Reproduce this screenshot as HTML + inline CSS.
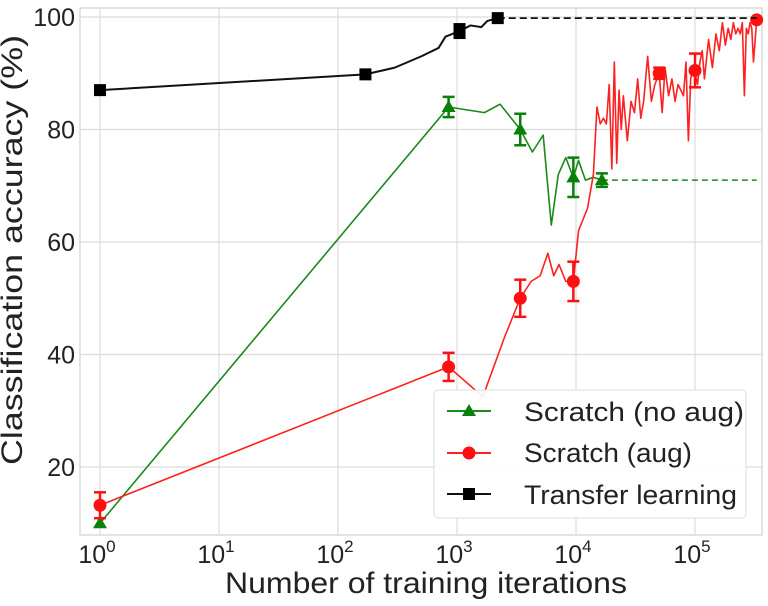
<!DOCTYPE html>
<html><head><meta charset="utf-8"><style>
html,body{margin:0;padding:0;background:#fff;}
svg{display:block;font-family:"Liberation Sans",sans-serif;}
</style></head><body>
<svg id="chart" width="768" height="606" viewBox="0 0 768 606" xmlns="http://www.w3.org/2000/svg">
<rect x="80" y="8" width="682" height="527" fill="#fff" stroke="#d0d0d0" stroke-width="1.2"/>
<g id="grid"></g>
<g id="series"></g>
<text x="22" y="250" font-size="30" fill="#222" text-anchor="middle" textLength="430" lengthAdjust="spacingAndGlyphs" transform="rotate(-90 22 250)">Classification accuracy (%)</text>
<text x="426" y="593" font-size="30" fill="#222" text-anchor="middle" textLength="402" lengthAdjust="spacingAndGlyphs">Number of training iterations</text>
<g>
<rect x="434" y="390" width="312" height="128" rx="4" fill="#fff" fill-opacity="0.9" stroke="#ddd"/>
<g><line x1="447" y1="411" x2="491" y2="411" stroke="#1a8a1a" stroke-width="2"/><polygon points="469,404 476,416 462,416" fill="#0a800a"/><text x="524" y="421" font-size="27" fill="#222" textLength="220" lengthAdjust="spacingAndGlyphs">Scratch (no aug)</text></g>
<g><line x1="447" y1="453" x2="491" y2="453" stroke="#ff2020" stroke-width="2"/><circle cx="469" cy="453" r="6.5" fill="#ff1010"/><text x="524" y="462" font-size="27" fill="#222" textLength="168" lengthAdjust="spacingAndGlyphs">Scratch (aug)</text></g>
<g><line x1="447" y1="494" x2="491" y2="494" stroke="#111" stroke-width="2"/><rect x="463" y="488" width="12" height="12" fill="#000"/><text x="524" y="504" font-size="27" fill="#222" textLength="213" lengthAdjust="spacingAndGlyphs">Transfer learning</text></g>
</g>
</svg>
<script>
// ---- data ----
const yTicks=[20,40,60,80,100];
const xTickExps=[0,1,2,3,4,5];
const transferIters=[1,170,300,500,700,800,1050,1300,1600,1800,2200];
const transferAcc=[87,89.8,91,93,94.5,96.5,97.5,98.5,98.2,99.3,99.8];
const transferMarkIters=[1,170,1050,2200];
const transferMarkAcc=[87,89.8,97.5,99.8];
const transferErr=[0,0,1.2,0];
const transferDashEnd=330000;
const noAugIters=[1,850,1700,2300,3400,4300,5300,6200,7100,8200,9500,10500,12000,14000,16500];
const noAugAcc=[10,84,83,84.5,80,76,79,63,72,75,71.5,74.5,71,71.5,71];
const noAugMarkIters=[1,850,3400,9500,16500];
const noAugMarkAcc=[10,84,80,71.5,71];
const noAugErr=[0,1.8,2.8,3.5,1.2];
const noAugDashEnd=330000;
const augIters=[1,850,1650,2500,3400,4200,5000,5800,6500,7200,8200,9500,10500,12500,14000,15000,16000,17000,18000,19000,20000,21000,22000,23000,24000,25000,27000,29000,31000,33000,35000,37000,40000,43000,46000,50000,53000,56000,60000,64000,68000,72000,76000,80000,84000,88000,92000,96000,100000,105000,110000,115000,120000,130000,140000,150000,160000,170000,180000,190000,200000,210000,220000,230000,240000,250000,260000,270000,280000,290000,300000,310000,330000];
const augAcc=[13.2,37.8,32.5,43,50,53,54,58,54,56,53,53,62,66,72,84,81,82,81,88,73,92,74,87,80,86,78,85,83,89,82,85,93,85,88,90,83,91,86,89,85,88,87,86,92,78,89,91,90,88,92,94,89,96,91,97,94,99,95,98,96,99,97,98,97,99,86,98,97,99,98,92,99.5];
const augMarkIters=[1,850,3400,9500,50000,100000,330000];
const augMarkAcc=[13.2,37.8,50,53,90,90.5,99.5];
const augErr=[2.3,2.5,3.3,3.5,1,3,0];
// ---- axes ----
const X=n=>100+119*Math.log10(n);
const Y=v=>17+(100-v)*5.625;
const NS="http://www.w3.org/2000/svg";
function mk(tag,attrs,parent){const e=document.createElementNS(NS,tag);for(const k in attrs)e.setAttribute(k,attrs[k]);parent.appendChild(e);return e;}
const grid=document.getElementById('grid'),ser=document.getElementById('series');
yTicks.forEach(v=>{
  const l=mk('line',{x1:80,x2:762,y1:Y(v),y2:Y(v),stroke:'#dcdcdc','stroke-width':1.2},grid);
  
  
  const t=mk('text',{x:75,y:Y(v)+9,'font-size':25,fill:'#222','text-anchor':'end'},grid);
  t.textContent=v;
  
  
});
xTickExps.forEach(p=>{
  const x=X(Math.pow(10,p));
  const l=mk('line',{x1:x,x2:x,y1:8,y2:535,stroke:'#dcdcdc','stroke-width':1.2},grid);
  
  
  const t=mk('text',{x:x-3,y:563,'font-size':25,fill:'#222','text-anchor':'middle'},grid);
  t.textContent='10';
  const s=mk('tspan',{dy:-11,'font-size':17},t);s.textContent=p;
  
  
});
function line(iters,vals,color,w,name,dash){
  const p=mk('polyline',{points:iters.map((n,i)=>X(n)+','+Y(vals[i])).join(' '),fill:'none',stroke:color,'stroke-width':w,'stroke-linejoin':'round'},ser);
  if(dash)p.setAttribute('stroke-dasharray',dash);
  
  
}
function errs(iters,vals,err,color,name){
  iters.forEach((n,i)=>{if(!err[i])return;const x=X(n),a=Y(vals[i]-err[i]),b=Y(vals[i]+err[i]);
    const g=mk('g',{stroke:color,'stroke-width':2.5},ser);
    
    
    mk('line',{x1:x,x2:x,y1:a,y2:b},g);mk('line',{x1:x-6,x2:x+6,y1:a,y2:a},g);mk('line',{x1:x-6,x2:x+6,y1:b,y2:b},g);});
}
line(noAugIters,noAugAcc,'#1a8a1a',1.6,'no-aug-line');
line([noAugIters[noAugIters.length-1],noAugDashEnd],[noAugAcc[noAugAcc.length-1],noAugAcc[noAugAcc.length-1]],'#1a8a1a',1.6,'no-aug-dashed-extension','6,4');
errs(noAugMarkIters,noAugMarkAcc,noAugErr,'#0a800a','no-aug-errorbar');
noAugMarkIters.forEach((n,i)=>{const x=X(n),y=Y(noAugMarkAcc[i]);
  const m=mk('polygon',{points:`${x},${y-7} ${x+7},${y+5} ${x-7},${y+5}`,fill:'#0a800a'},ser);
  
  });
line(augIters,augAcc,'#ff2020',1.6,'aug-line');
errs(augMarkIters,augMarkAcc,augErr,'#ff1010','aug-errorbar');
augMarkIters.forEach((n,i)=>{
  const m=mk('circle',{cx:X(n),cy:Y(augMarkAcc[i]),r:6.5,fill:'#ff1010'},ser);
  
  });
line(transferIters,transferAcc,'#111',2,'transfer-line');
line([transferIters[transferIters.length-1],transferDashEnd],[transferAcc[transferAcc.length-1],transferAcc[transferAcc.length-1]],'#111',1.8,'transfer-dashed-extension','7,4');
errs(transferMarkIters,transferMarkAcc,transferErr,'#000','transfer-errorbar');
transferMarkIters.forEach((n,i)=>{
  const m=mk('rect',{x:X(n)-6,y:Y(transferMarkAcc[i])-6,width:12,height:12,fill:'#000'},ser);
  
  });
</script>
</body></html>
